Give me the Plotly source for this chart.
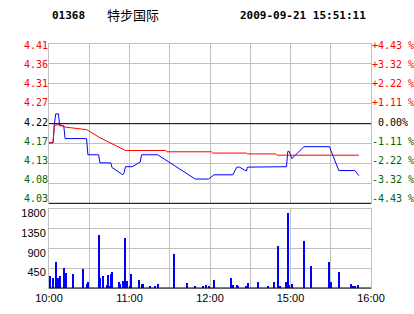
import plotly.graph_objects as go

# ---------------- data ----------------
CODE = "01368"
NAME = "特步国际"
STAMP = "2009-09-21 15:51:11"
PREV_CLOSE = 4.22

# minutes since 10:00 (trading minutes; 12:30-14:30 break removed)
price_t = [0, 3, 4, 5, 7, 8, 11, 12, 28, 29, 37, 38, 46, 47, 55, 56, 57, 62, 68, 69,
           81, 109, 119, 123, 137, 140, 142, 147, 148, 177, 178, 179, 181, 190, 209,
           216, 228, 231]
price_v = [4.175, 4.175, 4.218, 4.243, 4.243, 4.215, 4.215, 4.185, 4.185, 4.147, 4.147,
           4.128, 4.128, 4.117, 4.100, 4.105, 4.119, 4.119, 4.130, 4.147,
           4.147, 4.090, 4.090, 4.100, 4.100, 4.118, 4.118, 4.109, 4.118, 4.119, 4.155,
           4.155, 4.138, 4.166, 4.166, 4.110, 4.110, 4.098]

avg_t = [0, 3, 4, 8, 12, 28, 38, 47, 56, 57, 87, 88, 121, 122, 147, 148, 169, 170, 231]
avg_v = [4.175, 4.175, 4.216, 4.218, 4.212, 4.206, 4.187, 4.173, 4.160, 4.157, 4.157,
         4.154, 4.154, 4.151, 4.151, 4.149, 4.149, 4.146, 4.146]

vol_t = [0, 1, 3, 5, 7, 8, 11, 13, 18, 25, 28, 29, 37, 38, 40, 43, 44, 45, 46, 47, 52, 53,
         55, 57, 58, 60, 61, 67, 69, 70, 75, 79, 81, 93, 103, 109, 115, 117, 119, 123,
         136, 137, 140, 141, 147, 148, 156, 163, 168, 171, 172, 177, 178, 179, 181, 190,
         195, 209, 210, 216, 225, 226, 227, 228, 230]
vol_v = [273, 273, 212, 592, 212, 258, 455, 341, 319, 432, 91, 137, 1207, 228, 273, 68,
         296, 46, 319, 364, 137, 91, 159, 1146, 159, 46, 319, 182, 91, 91, 46, 46, 91,
         774, 114, 46, 46, 68, 46, 182, 228, 68, 68, 46, 46, 114, 137, 46, 137, 956, 46,
         137, 1708, 68, 91, 1070, 501, 592, 137, 364, 91, 46, 46, 46, 68]

pct_ticks = [4.43, 3.32, 2.22, 1.11, 0.0, -1.11, -2.22, -3.32, -4.43]
price_labels = ["4.41", "4.36", "4.31", "4.27", "4.22", "4.17", "4.13", "4.08", "4.03"]
pct_labels = ["+4.43 %", "+3.32 %", "+2.22 %", "+1.11 %", "\u00a00.00%",
              "-1.11 %", "-2.22 %", "-3.32 %", "-4.43 %"]
vol_ticks = [0, 450, 900, 1350, 1800]
vol_labels = ["", "450", "900", "1350", "1800"]
x_ticks = [0, 30, 60, 90, 120, 150, 180, 210, 240]
x_labels = ["10:00", "", "11:00", "", "12:00", "", "15:00", "", "16:00"]

# ---------------- derived ----------------
RED, GREEN, BLUE, GRID = "#ff0000", "#006600", "#0000ff", "#c0c0c0"
price_ticks = [PREV_CLOSE * (1 + p / 100) for p in pct_ticks]
lo, hi = price_ticks[-1], price_ticks[0]

# label axes: labels sit slightly inside the grid (top label 1.5px lower,
# bottom label ~5px higher), as in the original terminal chart
PANEL_PX = 159.3
span = (hi - lo) * PANEL_PX / 153.0
lab_hi = hi + span * 1.5 / PANEL_PX
lab_lo = lab_hi - span


def col(p):
    return RED if p > 0 else (GREEN if p < 0 else "#000000")


left_text = [f"<span style='color:{col(p)}'>{s}</span>" for p, s in zip(pct_ticks, price_labels)]
right_text = [f"<span style='color:{col(p)}'>{s}</span>" for p, s in zip(pct_ticks, pct_labels)]

MONO = "DejaVu Sans Mono"
SANS = "Liberation Sans, Arial"

fig = go.Figure()
fig.add_trace(go.Scatter(x=price_t, y=price_v, mode="lines", xaxis="x", yaxis="y",
                         line=dict(color=BLUE, width=1), hoverinfo="skip"))
fig.add_trace(go.Scatter(x=avg_t, y=avg_v, mode="lines", xaxis="x", yaxis="y",
                         line=dict(color=RED, width=1), hoverinfo="skip"))
fig.add_trace(go.Bar(x=vol_t, y=vol_v, xaxis="x2", yaxis="y2", width=0.75,
                     marker=dict(color=BLUE, line=dict(width=0)), hoverinfo="skip"))
# empty carriers so the two label-only axes get drawn
for ax in ("y3", "y4"):
    fig.add_trace(go.Scatter(x=[None], y=[None], mode="lines", xaxis="x", yaxis=ax,
                             hoverinfo="skip", showlegend=False))

xcommon = dict(range=[0, 240], tickmode="array", tickvals=x_ticks, showgrid=True,
               gridcolor=GRID, gridwidth=1, showline=True, mirror=True, linecolor=GRID,
               linewidth=1, zeroline=False, ticks="", fixedrange=True, automargin=False)
labaxis = dict(overlaying="y", anchor="x", range=[lab_lo, lab_hi], tickmode="array",
               tickvals=price_ticks, showgrid=False, zeroline=False, ticks="",
               showline=False, tickfont=dict(family=MONO, size=10, color="black"),
               fixedrange=True, automargin=False)
fig.update_layout(
    width=414, height=314,
    margin=dict(l=49, r=43, t=44, b=26, autoexpand=False),
    paper_bgcolor="white", plot_bgcolor="white",
    showlegend=False,
    xaxis=dict(xcommon, anchor="y", domain=[0, 1], showticklabels=False),
    yaxis=dict(domain=[0.347, 1], anchor="x", range=[lo, hi], tickmode="array",
               tickvals=price_ticks, showticklabels=False, showgrid=True, gridcolor=GRID,
               showline=True, mirror=True, linecolor=GRID, zeroline=False, ticks="",
               fixedrange=True, automargin=False),
    yaxis3=dict(labaxis, side="right", ticktext=right_text),
    yaxis4=dict(labaxis, side="left", ticktext=left_text),
    xaxis2=dict(xcommon, anchor="y2", domain=[0, 1], ticktext=x_labels,
                showticklabels=True, tickfont=dict(family=SANS, size=11, color="black")),
    yaxis2=dict(domain=[0, 0.3225], anchor="x2", range=[0, 1800], tickmode="array",
                tickvals=vol_ticks, ticktext=vol_labels, showgrid=True, gridcolor=GRID,
                showline=True, mirror=True, linecolor=GRID, zeroline=False, ticks="",
                tickfont=dict(family=SANS, size=11, color="black"), fixedrange=True,
                automargin=False, ticklabelshift=4),
    bargap=0,
)

# reference lines: previous close and chart bottoms in black
fig.add_shape(type="line", xref="x domain", yref="y", x0=0, x1=1, y0=PREV_CLOSE,
              y1=PREV_CLOSE, line=dict(color="black", width=1))
fig.add_shape(type="line", xref="x domain", yref="y domain", x0=0, x1=1, y0=0, y1=0,
              line=dict(color="black", width=1))
fig.add_shape(type="line", xref="x2 domain", yref="y2 domain", x0=0, x1=1, y0=0, y1=0,
              line=dict(color="black", width=1))

BOLD = "DejaVu Sans Mono"
fig.add_annotation(text=f"<b>{CODE}</b>", xref="paper", yref="paper", x=0.003, y=1.115,
                   xanchor="left", yanchor="middle", showarrow=False,
                   font=dict(family=BOLD, size=11, color="black"))
fig.add_annotation(text=NAME, xref="paper", yref="paper", x=0.174, y=1.12,
                   xanchor="left", yanchor="middle", showarrow=False,
                   font=dict(family="Noto Sans CJK SC", size=13, color="black"))
fig.add_annotation(text=f"<b>{STAMP}</b>", xref="paper", yref="paper", x=0.587, y=1.115,
                   xanchor="left", yanchor="middle", showarrow=False,
                   font=dict(family=BOLD, size=11, color="black"))

fig.write_html("out.html", config=dict(displayModeBar=False))
